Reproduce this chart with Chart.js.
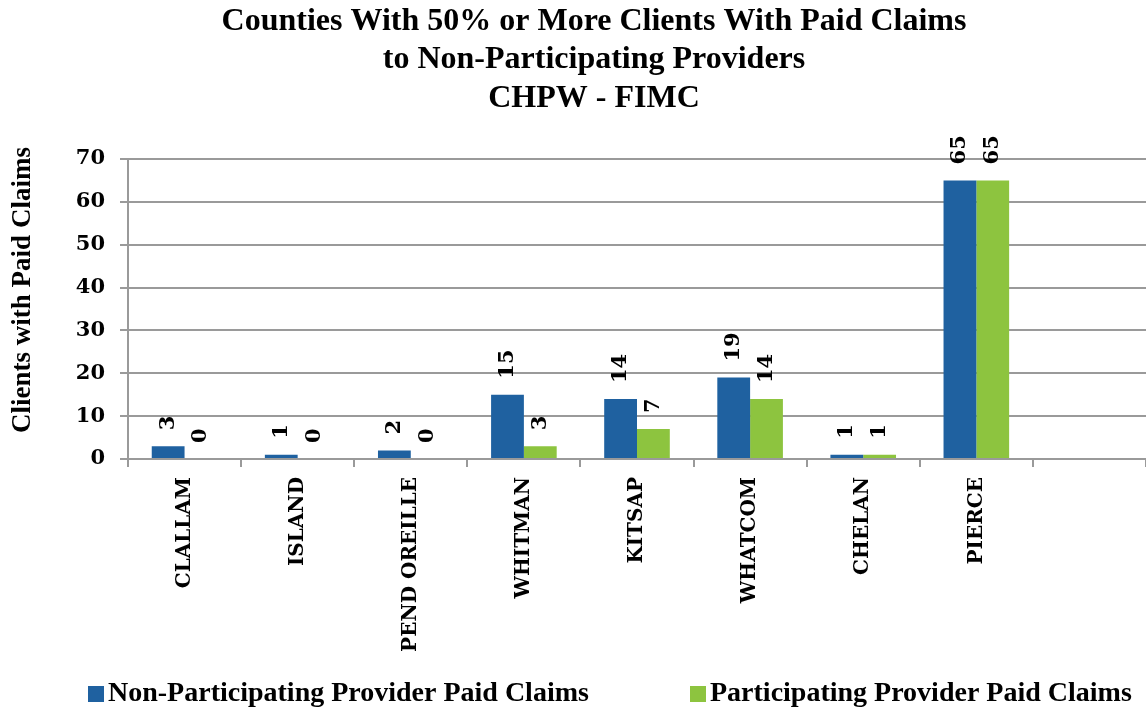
<!DOCTYPE html>
<html>
<head>
<meta charset="utf-8">
<script src="https://cdn.jsdelivr.net/npm/chart.js@4.4.1/dist/chart.umd.min.js"></script>
<style>
    html, body { margin: 0; padding: 0; background: #fff; }
    #wrap { width: 1146px; height: 710px; position: relative; }
</style>
</head>
<body>
<div id="wrap"><canvas id="claimsChart"></canvas></div>
<script>
const counties = ["CLALLAM", "ISLAND", "PEND OREILLE", "WHITMAN", "KITSAP", "WHATCOM", "CHELAN", "PIERCE", ""];
const nonParticipating = [3, 1, 2, 15, 14, 19, 1, 65, null];
const participating = [0, 0, 0, 3, 7, 14, 1, 65, null];
const yTicks = [0, 10, 20, 30, 40, 50, 60, 70];
const seriesNames = ["Non-Participating Provider Paid Claims", "Participating Provider Paid Claims"];
const seriesColors = ["#1f61a0", "#8dc43f"];
const titleLines = [
    "Counties With 50% or More Clients With Paid Claims",
    "to Non-Participating Providers",
    "CHPW - FIMC"
];
const yAxisTitle = "Clients with Paid Claims";

const gridColor = "#9a9a9a";

// Rotated value labels above each bar
const valueLabels = {
    id: "valueLabels",
    afterDatasetsDraw(chart) {
        const ctx = chart.ctx;
        ctx.save();
        ctx.fillStyle = "#000";
        ctx.font = "bold 21px 'DejaVu Serif'";
        ctx.textAlign = "left";
        ctx.textBaseline = "middle";
        chart.data.datasets.forEach((ds, i) => {
            chart.getDatasetMeta(i).data.forEach((bar, j) => {
                const v = ds.data[j];
                if (v === null || v === undefined) return;
                ctx.save();
                ctx.translate(bar.x, bar.y - 16);
                ctx.rotate(-Math.PI / 2);
                ctx.fillText(String(v), 0, 0);
                ctx.restore();
            });
        });
        ctx.restore();
    }
};

// Title block, y axis title and bottom legend drawn Excel-style
const headerAndLegend = {
    id: "headerAndLegend",
    afterDraw(chart) {
        const ctx = chart.ctx;
        ctx.save();
        ctx.fillStyle = "#000";
        ctx.font = "bold 32px 'Liberation Serif'";
        ctx.textAlign = "center";
        ctx.textBaseline = "middle";
        const titleY = [22, 60, 99];
        titleLines.forEach((line, i) => ctx.fillText(line, 594, titleY[i]));

        // y axis title
        ctx.save();
        ctx.font = "bold 27px 'Liberation Serif'";
        ctx.translate(23, 290);
        ctx.rotate(-Math.PI / 2);
        ctx.fillText(yAxisTitle, 0, 0);
        ctx.restore();

        const legendX = [88, 690];
        ctx.font = "bold 28px 'Liberation Serif'";
        ctx.textAlign = "left";
        chart.data.datasets.forEach((ds, i) => {
            ctx.fillStyle = ds.backgroundColor;
            ctx.fillRect(legendX[i], 686, 16, 16);
            ctx.fillStyle = "#000";
            ctx.fillText(ds.label, legendX[i] + 20, 694);
        });
        ctx.restore();
    }
};

const ctx = document.getElementById("claimsChart").getContext("2d");
new Chart(ctx, {
    type: "bar",
    data: {
        labels: counties,
        datasets: [
            {
                label: seriesNames[0],
                data: nonParticipating,
                backgroundColor: seriesColors[0],
                categoryPercentage: 0.58,
                barPercentage: 1.0
            },
            {
                label: seriesNames[1],
                data: participating,
                backgroundColor: seriesColors[1],
                categoryPercentage: 0.58,
                barPercentage: 1.0
            }
        ]
    },
    options: {
        responsive: true,
        maintainAspectRatio: false,
        animation: false,
        layout: {
            padding: { top: 159, bottom: 51, left: 0, right: 0 }
        },
        plugins: {
            legend: { display: false },
            title: { display: false },
            tooltip: { enabled: false }
        },
        scales: {
            x: {
                afterFit(scale) { scale.height = 200; },
                grid: {
                    offset: true,
                    drawOnChartArea: false,
                    drawTicks: true,
                    tickLength: 8,
                    color: gridColor,
                    lineWidth: 2
                },
                border: { color: gridColor, width: 2 },
                ticks: {
                    color: "#000",
                    font: { family: "DejaVu Serif", weight: "bold", size: 20 },
                    minRotation: 90,
                    maxRotation: 90,
                    autoSkip: false,
                    padding: 10
                }
            },
            y: {
                min: 0,
                max: 70,
                afterFit(scale) { scale.width = 128; },
                afterBuildTicks(scale) { scale.ticks = yTicks.map(v => ({ value: v })); },
                grid: {
                    color: gridColor,
                    lineWidth: 2,
                    tickLength: 8
                },
                border: { color: gridColor, width: 2 },
                ticks: {
                    color: "#000",
                    padding: 15,
                    font: { family: "DejaVu Serif", weight: "bold", size: 21 }
                }
            }
        }
    },
    plugins: [valueLabels, headerAndLegend]
});
</script>
</body>
</html>
